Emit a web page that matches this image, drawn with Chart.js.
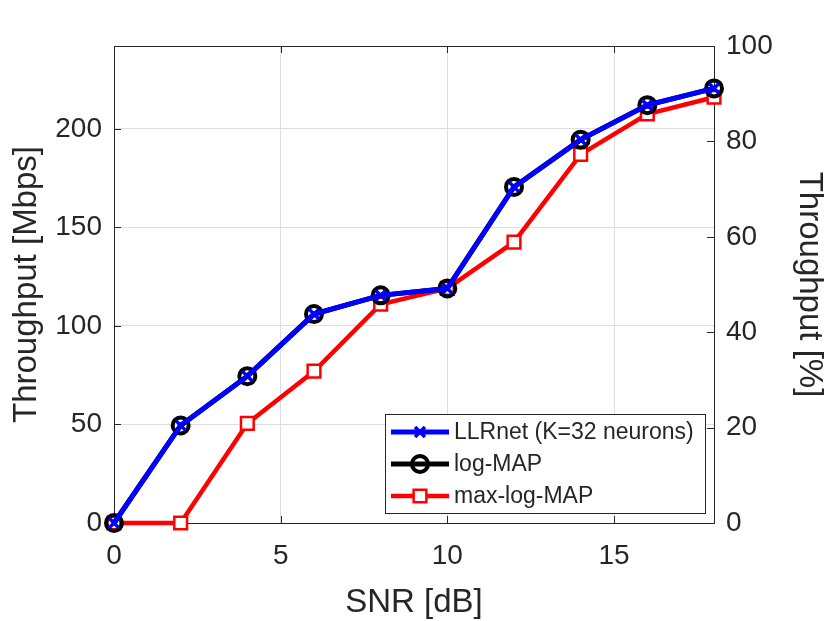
<!DOCTYPE html>
<html lang="en">
<head>
  <meta charset="UTF-8" />
  <title>Throughput vs SNR</title>
  <script src="https://cdn.jsdelivr.net/npm/chart.js"></script>
  <style>
    body {
      margin: 0;
      background: #fff;
    }
    #wrap {
      width: 830px;
      height: 621px;
      position: relative;
    }
  </style>
</head>
<body>

  <div id="wrap">
    <canvas id="snrChart"></canvas>
  </div>

  <script>
    // values
    const snrDb = [0, 2, 4, 6, 8, 10, 12, 14, 16, 18];
    const llrnetMbps = [0, 49.5, 74.5, 106, 115.5, 119, 170.5, 194.5, 212, 220.5];
    const logMapMbps = [0, 49.5, 74.5, 106, 115.5, 119, 170.5, 194.5, 212, 220.5];
    const maxLogMapMbps = [0, 0, 50.5, 77, 111, 119, 142.5, 187, 207.5, 216];

    const seriesLabels = ['LLRnet (K=32 neurons)', 'log-MAP', 'max-log-MAP'];

    const snrTicks = [0, 5, 10, 15];
    const mbpsTicks = [0, 50, 100, 150, 200];
    const percentTicks = [0, 20, 40, 60, 80, 100];
    const snrMax = 18;
    const mbpsMax = 242;   // = 100 %

    const textColor = '#262626';
    const gridColor = '#dedede';
    const fontFamily = 'Arial, "Liberation Sans", Helvetica, sans-serif';

    const toPoints = ys => snrDb.map((x, i) => ({ x: x, y: ys[i] }));
    const fixTicks = list => scale => { scale.ticks = list.map(v => ({ value: v })); };

    // MATLAB-like box with inward ticks
    const boxPlugin = {
      id: 'box',
      beforeDatasetsDraw(chart) {
        const { ctx, chartArea: a, scales } = chart;
        const len = 7;
        ctx.save();
        ctx.strokeStyle = textColor;
        ctx.lineWidth = 1;
        ctx.beginPath();
        snrTicks.forEach(v => {
          const x = Math.round(scales.x.getPixelForValue(v)) + 0.5;
          ctx.moveTo(x, a.bottom); ctx.lineTo(x, a.bottom - len);
          ctx.moveTo(x, a.top); ctx.lineTo(x, a.top + len);
        });
        mbpsTicks.forEach(v => {
          const y = Math.round(scales.y.getPixelForValue(v)) + 0.5;
          ctx.moveTo(a.left, y); ctx.lineTo(a.left + len, y);
        });
        percentTicks.forEach(v => {
          const y = Math.round(scales.y2.getPixelForValue(v)) + 0.5;
          ctx.moveTo(a.right, y); ctx.lineTo(a.right - len, y);
        });
        ctx.stroke();
        ctx.strokeRect(Math.round(a.left) + 0.5, Math.round(a.top) + 0.5,
          Math.round(a.right - a.left), Math.round(a.bottom - a.top));
        ctx.restore();
      }
    };

    // legend box inside the plot, lower right
    const legendPlugin = {
      id: 'boxLegend',
      afterDatasetsDraw(chart) {
        const { ctx, chartArea: a } = chart;
        const w = 320, h = 99;
        const x0 = a.right - 9 - w, y0 = a.bottom - 10 - h;
        ctx.save();
        ctx.fillStyle = '#fff';
        ctx.fillRect(x0, y0, w, h);
        ctx.strokeStyle = textColor;
        ctx.lineWidth = 1;
        ctx.strokeRect(Math.round(x0) + 0.5, Math.round(y0) + 0.5, w, h);
        ctx.font = '23px ' + fontFamily;
        ctx.textBaseline = 'middle';
        chart.data.datasets.forEach((ds, i) => {
          const y = y0 + 18 + i * 32;
          ctx.strokeStyle = ds.borderColor;
          ctx.lineWidth = ds.borderWidth;
          ctx.beginPath();
          ctx.moveTo(x0 + 6, y);
          ctx.lineTo(x0 + 64, y);
          ctx.stroke();
          ctx.fillStyle = ds.pointBackgroundColor;
          ctx.strokeStyle = ds.pointBorderColor;
          ctx.lineWidth = ds.pointBorderWidth;
          Chart.helpers.drawPoint(ctx, {
            pointStyle: ds.pointStyle,
            radius: ds.pointRadius,
            rotation: 0,
            borderWidth: ds.pointBorderWidth
          }, x0 + 35, y);
          ctx.fillStyle = textColor;
          ctx.fillText(ds.label, x0 + 69, y + 1);
        });
        ctx.restore();
      }
    };

    new Chart(document.getElementById('snrChart'), {
      type: 'line',
      data: {
        datasets: [
          {
            label: seriesLabels[0],
            data: toPoints(llrnetMbps),
            borderColor: '#0000ff',
            borderWidth: 5,
            pointStyle: 'crossRot',
            pointRadius: 7,
            pointBorderWidth: 3.5,
            pointBorderColor: '#0000ff',
            pointBackgroundColor: '#0000ff'
          },
          {
            label: seriesLabels[1],
            data: toPoints(logMapMbps),
            borderColor: '#000000',
            borderWidth: 5,
            pointStyle: 'circle',
            pointRadius: 8,
            pointBorderWidth: 4,
            pointBorderColor: '#000000',
            pointBackgroundColor: 'rgba(0,0,0,0)'
          },
          {
            label: seriesLabels[2],
            data: toPoints(maxLogMapMbps),
            borderColor: '#ff0000',
            borderWidth: 4.5,
            pointStyle: 'rect',
            pointRadius: 9,
            pointBorderWidth: 2.5,
            pointBorderColor: '#ff0000',
            pointBackgroundColor: '#ffffff'
          }
        ]
      },
      options: {
        responsive: true,
        maintainAspectRatio: false,
        animation: false,
        clip: false,
        devicePixelRatio: 1,
        elements: { line: { tension: 0 } },
        layout: { padding: { top: 46, left: 0, right: 0, bottom: 0 } },
        plugins: {
          legend: { display: false },
          tooltip: { enabled: false }
        },
        scales: {
          x: {
            type: 'linear',
            min: 0,
            max: snrMax,
            afterBuildTicks: fixTicks(snrTicks),
            afterFit: s => { s.height = 98; },
            grid: { color: gridColor, drawTicks: false },
            border: { display: false },
            ticks: { color: textColor, padding: 16, font: { family: fontFamily, size: 28 } },
            title: {
              display: true,
              text: 'SNR [dB]',
              color: textColor,
              padding: { top: 0, bottom: 1.5 },
              font: { family: fontFamily, size: 33, lineHeight: 1 }
            }
          },
          y: {
            type: 'linear',
            position: 'left',
            min: 0,
            max: mbpsMax,
            afterBuildTicks: fixTicks(mbpsTicks),
            afterFit: s => { s.width = 114; },
            grid: { color: gridColor, drawTicks: false },
            border: { display: false },
            ticks: { color: textColor, padding: 12, font: { family: fontFamily, size: 28 } },
            title: {
              display: true,
              text: 'Throughput [Mbps]',
              color: textColor,
              padding: { top: 10.5, bottom: 0 },
              font: { family: fontFamily, size: 33, lineHeight: 1 }
            }
          },
          y2: {
            type: 'linear',
            position: 'right',
            min: 0,
            max: 100,
            afterBuildTicks: fixTicks(percentTicks),
            afterFit: s => { s.width = 116; },
            grid: { display: false, drawTicks: false },
            border: { display: false },
            ticks: { color: textColor, padding: 12, font: { family: fontFamily, size: 28 } },
            title: {
              display: true,
              text: 'Throughput [%]',
              color: textColor,
              padding: { top: 4.5, bottom: 0 },
              font: { family: fontFamily, size: 33, lineHeight: 1 }
            }
          }
        }
      },
      plugins: [boxPlugin, legendPlugin]
    });
  </script>

</body>
</html>
